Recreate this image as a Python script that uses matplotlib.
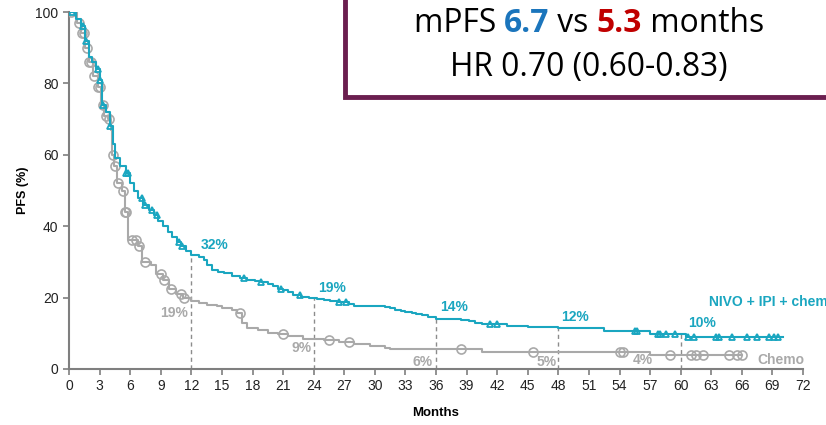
import numpy as np
import matplotlib
matplotlib.use("Agg")
import matplotlib.pyplot as plt
from matplotlib.patches import Rectangle

plt.rcParams['font.family'] = ['Liberation Sans', 'DejaVu Sans']

# ---- data ----
nivo_t = [0, 0.7, 1.2, 1.6, 2.0, 2.3, 2.6, 3.0, 3.2, 3.6, 4.0, 4.3, 4.5, 5.0, 5.6, 6.0, 6.4, 6.8, 7.3, 7.8, 8.3,
          8.7, 9.2, 9.7, 10.1, 10.6, 11.0, 11.5, 12.0, 12.8, 13.2, 13.5, 14.0, 14.6, 15.2, 16.0, 16.8, 17.5,
          18.2, 18.8, 19.5, 20.0, 20.5, 21.0, 21.5, 22.0, 22.8, 23.5, 24.3, 25.0, 25.6, 26.3, 27.5, 28.0,
          31.0, 31.5, 32.0, 32.6, 33.0, 33.6, 34.0, 34.6, 35.2, 36.0, 38.5, 39.2, 39.8, 40.5, 43.0, 45.0,
          48.0, 52.5, 57.0, 60.5, 70.0]
nivo_s = [100, 98, 96, 92, 87.5, 86, 84, 81, 74, 72, 68, 63, 59, 57, 55, 52, 50, 48, 46, 44.5, 43,
          41.5, 40, 38.5, 37, 35.5, 34.5, 33, 32, 31.5, 30.5, 29, 27.8, 27.2, 26.8, 26, 25.5, 25,
          24.7, 24.3, 23.7, 23.2, 22.5, 22, 21.5, 20.7, 20.2, 20, 19.7, 19.4, 19, 18.7, 18.2, 17.6,
          17.4, 17.0, 16.6, 16.3, 16.0, 15.7, 15.4, 15.0, 14.6, 14.0, 13.7, 13.4, 13.0, 12.6, 12.1, 11.7,
          11.5, 10.6, 9.9, 9.1, 9.1]
chemo_t = [0, 0.8, 1.2, 1.6, 2.0, 2.4, 2.8, 3.1, 3.4, 3.8, 4.1, 4.2, 4.4, 4.7, 5.2, 5.5, 5.8, 6.8, 7.2, 8.0,
           8.5, 9.2, 9.8, 10.5, 11.2, 12.0, 12.8, 13.5, 14.5, 15.0, 16.0, 16.5, 17.0, 17.5, 18.5, 19.5,
           20.5, 21.5, 23.0, 25.0, 26.5, 28.0, 29.5, 31.0, 31.5, 36.0, 40.5, 57.0, 66.0]
chemo_s = [100, 97, 94, 90, 86, 82, 79, 74, 71, 70, 67, 60, 57, 52, 50, 44, 36, 34.5, 30, 29,
           26.5, 25, 22.5, 21, 20, 19, 18.6, 18, 17.6, 17.2, 16.6, 15.8, 13, 11.5, 11, 10.2,
           9.8, 9.3, 8.5, 8.1, 7.5, 7, 6.5, 6, 5.5, 5.5, 4.7, 4, 4]
nivo_cens = [0.3, 1.4, 1.7, 2.8, 3.0, 3.3, 4.0, 5.6, 5.8, 7.2, 7.5, 8.1, 8.6, 10.8, 11.1, 17.2, 18.8, 20.8,
             22.7, 26.5, 27.2, 41.3, 42.0, 55.5, 55.7, 57.8, 58.0, 58.6, 59.4, 60.7, 61.3, 63.5, 63.8,
             65.0, 66.5, 67.5, 68.7, 69.2, 69.5]
chemo_cens = [0.2, 1.0, 1.3, 1.5, 1.8, 2.0, 2.2, 2.5, 2.8, 3.0, 3.3, 3.6, 3.9, 4.3, 4.5, 4.8, 5.3, 5.5, 5.6,
              6.2, 6.6, 6.9, 7.5, 9.0, 9.3, 10.0, 11.0, 11.3, 16.8, 21.0, 25.5, 27.5, 38.5, 45.5, 54.0,
              54.3, 59.0, 61.0, 61.5, 62.2, 64.7, 65.5, 66.0]
landmarks = [12, 24, 36, 48, 60]
nivo_lm_labels = ["32%", "19%", "14%", "12%", "10%"]
chemo_lm_labels = ["19%", "9%", "6%", "5%", "4%"]
xticks = list(range(0, 73, 3))
yticks = [0, 20, 40, 60, 80, 100]

TEAL = "#1AA6C0"
GRAY = "#A9A9A9"


def step_val(ts, ss, x):
    idx = np.searchsorted(ts, x, side="right") - 1
    return np.asarray(ss)[idx]


fig = plt.figure(figsize=(8.26, 4.25), dpi=100)
ax = fig.add_axes([69 / 826, 56 / 425, (803 - 69) / 826, (369 - 12) / 425])

ax.step(chemo_t, chemo_s, where="post", color=GRAY, lw=1.5, zorder=3)
ax.step(nivo_t, nivo_s, where="post", color=TEAL, lw=1.5, zorder=4)
ax.plot(chemo_cens, step_val(chemo_t, chemo_s, chemo_cens), ls="none", marker="o", ms=6.5,
        mfc="none", mec=GRAY, mew=1.2, zorder=3)
ax.plot(nivo_cens, step_val(nivo_t, nivo_s, nivo_cens), ls="none", marker="^", ms=5,
        mfc="none", mec=TEAL, mew=1.3, zorder=4)

for lm in landmarks:
    top = step_val(nivo_t, nivo_s, lm)
    ax.plot([lm, lm], [0, top], ls=(0, (3, 2.5)), color="#8C8C8C", lw=1.0, zorder=2)

nivo_pos = [(12.9, 34.7), (24.4, 22.7), (36.4, 17.4), (48.3, 14.6), (60.7, 12.9)]
for (x, y), lab in zip(nivo_pos, nivo_lm_labels):
    ax.text(x, y, lab, color=TEAL, fontsize=10, fontweight="bold", ha="left", va="center")
chemo_pos = [(11.7, 15.7), (23.8, 5.9), (35.7, 2.0), (47.8, 2.0), (57.3, 2.5)]
for (x, y), lab in zip(chemo_pos, chemo_lm_labels):
    ax.text(x, y, lab, color=GRAY, fontsize=10, fontweight="bold", ha="right", va="center")

ax.text(62.8, 18.9, "NIVO + IPI + chemo", color=TEAL, fontsize=10, fontweight="bold",
        ha="left", va="center", clip_on=False)
ax.text(67.5, 2.5, "Chemo", color=GRAY, fontsize=10, fontweight="bold", ha="left", va="center")

ax.set_xlim(0, 72)
ax.set_ylim(0, 100)
ax.set_xticks(xticks)
ax.set_yticks(yticks)
for s in ["top", "right"]:
    ax.spines[s].set_visible(False)
for s in ["left", "bottom"]:
    ax.spines[s].set_color("#7F7F7F")
    ax.spines[s].set_linewidth(1.5)
ax.tick_params(axis="both", direction="out", length=4, width=1.2, color="#7F7F7F",
               labelsize=10, labelcolor="#222222")
ax.set_xlabel("Months", fontsize=9.5, fontweight="bold", labelpad=10)
ax.set_ylabel("PFS (%)", fontsize=9, fontweight="bold", labelpad=5)

# annotation box
box = Rectangle((345 / 826, 1 - 97 / 425), 0.7, 0.3, transform=fig.transFigure,
                fill=True, facecolor="white", edgecolor="#6B1E4F", lw=3.5, zorder=10, clip_on=False)
fig.patches.append(box)

fam = ['Open Sans', 'DejaVu Sans']
parts = [("mPFS ", "black", "normal"), ("6.7", "#1B75BC", "bold"), (" vs ", "black", "normal"),
         ("5.3", "#C00000", "bold"), (" months", "black", "normal")]
renderer = fig.canvas.get_renderer()
fs0 = 20
texts = []
for s, c, w in parts:
    t = fig.text(0, 0, s, fontsize=fs0, color=c, fontweight=w, family=fam, zorder=11)
    texts.append(t)
w0 = sum(t.get_window_extent(renderer).width for t in texts)
fs = fs0 * 350 / w0
widths = []
for t in texts:
    t.set_fontsize(fs)
    widths.append(t.get_window_extent(renderer).width)
total = sum(widths)
x0 = 589 - total / 2
for t, w in zip(texts, widths):
    t.set_position((x0 / 826, (425 - 32) / 425))
    t.set_va("baseline")
    x0 += w
fig.text(589 / 826, (425 - 76) / 425, "HR 0.70 (0.60-0.83)", fontsize=fs, color="black",
         family=fam, ha="center", va="baseline", zorder=11)

fig.savefig("out.png", dpi=100)
